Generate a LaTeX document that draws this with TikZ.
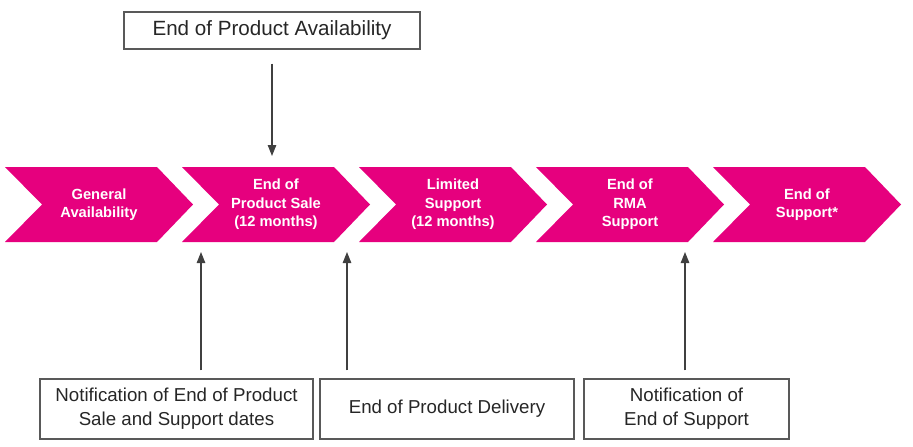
\documentclass[tikz,border=0pt]{standalone}
\usepackage{fontspec}
\setmainfont{Liberation Sans}
\usetikzlibrary{arrows.meta}
\definecolor{mag}{HTML}{E6007E}
\definecolor{boxline}{HTML}{595959}
\definecolor{txt}{HTML}{262626}
\definecolor{arrc}{HTML}{404040}
\tikzset{
  chev/.style={fill=mag, draw=none},
  chevtext/.style={text=white, font=\bfseries\fontsize{14.7}{18.5}\selectfont, align=center, inner sep=0pt},
  infobox/.style={draw=boxline, line width=1.2pt, text=txt, align=center, inner sep=0pt,
     font=\fontsize{18.7}{24.3}\selectfont},
  arr/.style={draw=arrc, line width=1.1pt, -{Triangle[length=11pt,width=8.5pt]}}
}
\begin{document}
\begin{tikzpicture}[x=1pt,y=-1pt]
\useasboundingbox (0,0) rectangle (913,447);
% chevrons
\foreach \i in {0,...,4}{
  \pgfmathsetmacro{\L}{5+177*\i}
  \fill[chev] (\L,167) -- (\L+152,167) -- (\L+188,204.5) -- (\L+152,242) -- (\L,242) -- (\L+37,204.5) -- cycle;
}
\node[chevtext] (c1) at (99,204.5) {General\\Availability};
\node[chevtext] (c2) at (276,204.5) {End of\\Product Sale\\(12 months)};
\node[chevtext] (c3) at (453,204.5) {Limited\\Support\\(12 months)};
\node[chevtext] (c4) at (630,204.5) {End of\\RMA\\Support};
\node[chevtext] (c5) at (807,204.5) {End of\\Support*};
% top box
\node[infobox, minimum width=296pt, minimum height=37pt, font=\fontsize{20.6}{24}\selectfont] (ta) at (272,30.5) {End of Product Availability};
% bottom boxes
\node[infobox, minimum width=273pt, minimum height=60pt] (b1) at (176.5,409) {Notification of End of Product\\Sale and Support dates};
\node[infobox, minimum width=254pt, minimum height=60pt] (b2) at (447,409) {End of Product Delivery};
\node[infobox, minimum width=205pt, minimum height=60pt] (b3) at (686.5,409) {Notification of\\End of Support};
% arrow targets
\coordinate (t0) at (272,156);
\coordinate (a1) at (201,252);
\coordinate (a2) at (347,252);
\coordinate (a3) at (685,252);
\draw[arr, shorten <=14pt] (ta.south) -- (t0);
\draw[arr, shorten <=8pt] (b1.north -| a1) -- (a1);
\draw[arr, shorten <=8pt] (b2.north -| a2) -- (a2);
\draw[arr, shorten <=8pt] (b3.north -| a3) -- (a3);
\end{tikzpicture}
\end{document}
